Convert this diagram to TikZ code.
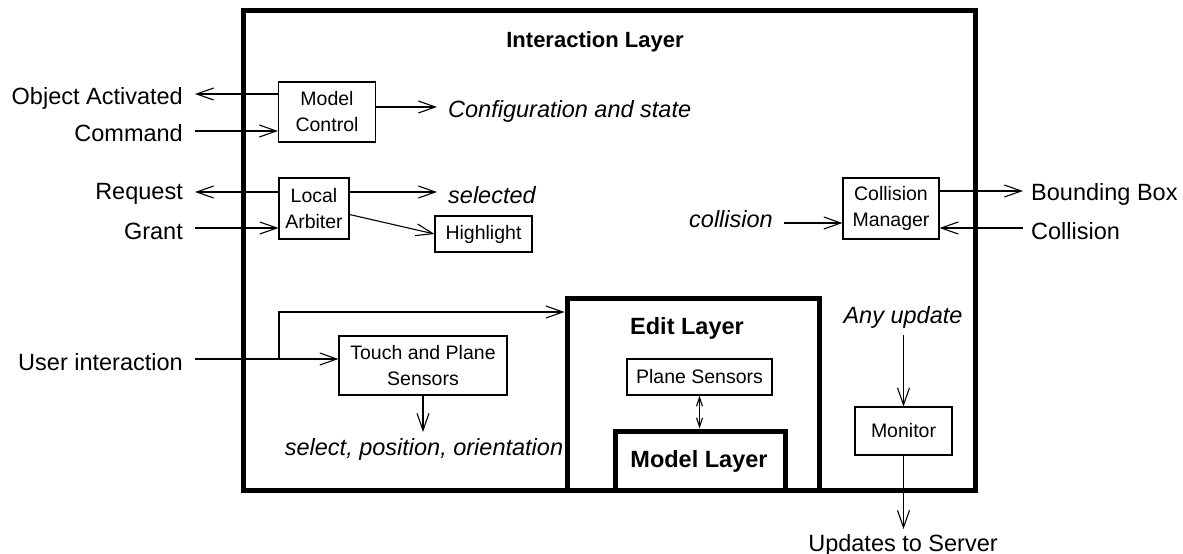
\documentclass[tikz,border=0pt]{standalone}
\usepackage{fontspec}
\setmainfont{Liberation Sans}
\usetikzlibrary{arrows.meta}
\begin{document}
\begin{tikzpicture}[x=1pt,y=-1pt,
  lbl/.style={font=\fontsize{23.5}{26}\selectfont, inner sep=0pt},
  ital/.style={font=\fontsize{23.5}{26}\selectfont\itshape, inner sep=0pt},
  ttl/.style={font=\fontsize{22}{26}\selectfont\bfseries, inner sep=0pt},
  sbox/.style={draw, line width=1.1pt, align=center, inner sep=0pt,
    font=\fontsize{19.5}{26}\selectfont},
  layer/.style={draw, line width=5pt, inner sep=0pt},
  arr/.style={line width=1.1pt, -{Straight Barb[length=17pt,width=12pt,line width=1.1pt]}},
  dbl/.style={line width=1.1pt, {Straight Barb[length=9pt,width=6pt,line width=1.1pt]}-{Straight Barb[length=9pt,width=6pt,line width=1.1pt]}},
  ln/.style={line width=1.1pt}
]
\useasboundingbox (0,0) rectangle (1183,554);

% layers
\node[layer, minimum width=732pt, minimum height=480pt] (il) at (609,250) {};
\node[ttl] (ilt) at (595,42) {Interaction Layer};
\node[layer, minimum width=252pt, minimum height=192pt] (el) at (693,394) {};
\node[ttl, font=\fontsize{23.5}{26}\selectfont\bfseries] (elt) at (687,328) {Edit Layer};
\node[layer, minimum width=170pt, minimum height=59pt] (ml) at (700,460.5) {};
\node[ttl, font=\fontsize{23.5}{26}\selectfont\bfseries] (mlt) at (699,461) {Model Layer};

% inner boxes
\node[sbox, minimum width=97pt, minimum height=60pt] (mc) at (327,112) {Model\\Control};
\node[sbox, minimum width=70pt, minimum height=61pt] (la) at (314,208.5) {Local\\Arbiter};
\node[sbox, minimum width=97pt, minimum height=36pt] (hl) at (483.5,234) {Highlight};
\node[sbox, minimum width=96pt, minimum height=61pt] (cm) at (891,208.5) {Collision\\Manager};
\node[sbox, minimum width=168pt, minimum height=59pt] (tp) at (423,365.5) {Touch and Plane\\Sensors};
\node[sbox, minimum width=145pt, minimum height=36pt] (ps) at (699.5,377) {Plane Sensors};
\node[sbox, minimum width=97pt, minimum height=48pt] (mon) at (903.5,431) {Monitor};

% outside labels
\node[lbl, anchor=east] (oa) at (183,98) {Object Activated};
\node[lbl, anchor=east] (cmd) at (183,133) {Command};
\node[lbl, anchor=east] (req) at (183,194) {Request};
\node[lbl, anchor=east] (gr) at (183,231) {Grant};
\node[lbl, anchor=east] (ui) at (183,362) {User interaction};
\node[lbl, anchor=west] (bb) at (1031,194) {Bounding Box};
\node[lbl, anchor=west] (col) at (1031,231) {Collision};
\node[lbl] (upd) at (903,545) {Updates to Server};

% inside labels
\node[ital, anchor=west] (cfg) at (448,111) {Configuration and state};
\node[ital, anchor=west] (sel) at (448,195) {selected};
\node[ital, anchor=east] (coll) at (773,219) {collision};
\node[ital] (spo) at (424,449) {select, position, orientation};
\node[ital] (any) at (903,317) {Any update};

% free ends of connectors
\coordinate (oaE) at (195,94);
\coordinate (cmdE) at (195,131);
\coordinate (reqE) at (195,192);
\coordinate (grE) at (195,228);
\coordinate (uiE) at (195,359);
\coordinate (br) at (279,359);
\coordinate (cfgE) at (437,107);
\coordinate (selE) at (437,192);
\coordinate (bbE) at (1023,191);
\coordinate (colE) at (1023,228);
\coordinate (collE) at (784,223);
\coordinate (spoE) at (423,432);
\coordinate (anyE) at (903.5,335);
\coordinate (updE) at (903.5,529);

% connectors
\draw[arr] (mc.west |- oaE) -- (oaE);
\draw[arr] (cmdE) -- (mc.west |- cmdE);
\draw[arr] (mc.east |- cfgE) -- (cfgE);
\draw[arr] (la.west |- reqE) -- (reqE);
\draw[arr] (grE) -- (la.west |- grE);
\draw[arr] (la.east |- selE) -- (selE);
\draw[arr] ([yshift=-6pt]la.east) -- (hl.west);
\draw[arr] (collE) -- (cm.west |- collE);
\draw[arr] (cm.east |- bbE) -- (bbE);
\draw[arr] (colE) -- (cm.east |- colE);
\draw[arr] (uiE) -- (tp.west |- uiE);
\draw[arr] (br) -- (br |- 0,312) -- (el.west |- 0,312);
\draw[arr] (tp.south) -- (spoE);
\draw[dbl] (ps.south) -- (ml.north -| ps.south);
\draw[arr] (anyE) -- (mon.north);
\draw[arr] (mon.south) -- (updE);
\end{tikzpicture}
\end{document}
